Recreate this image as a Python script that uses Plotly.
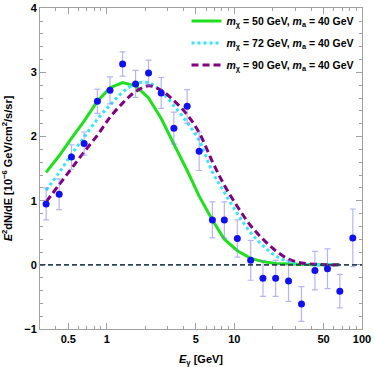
import numpy as np
import plotly.graph_objects as go

# ---- data ----
energy = [0.335, 0.424, 0.529, 0.665, 0.845, 1.061, 1.332, 1.683, 2.127, 2.673,
          3.36, 4.27, 5.30, 6.73, 8.35, 10.56, 13.43, 16.76, 21.07, 26.6,
          33.6, 42.8, 53.7, 67.1, 84.8]
flux = [0.95, 1.10, 1.68, 1.89, 2.55, 2.72, 3.13, 2.82, 2.99, 2.68,
        2.13, 2.47, 1.77, 0.70, 0.70, 0.41, 0.07, -0.21, -0.21, -0.25,
        -0.61, -0.09, -0.06, -0.41, 0.42]
flux_err = [0.25, 0.24, 0.19, 0.18, 0.19, 0.21, 0.19, 0.21, 0.20, 0.24,
            0.25, 0.26, 0.30, 0.28, 0.28, 0.29, 0.31, 0.28, 0.28, 0.32,
            0.27, 0.30, 0.31, 0.26, 0.45]

model_x = [0.335, 0.424, 0.529, 0.665, 0.845, 1.061, 1.332, 1.683, 2.127, 2.673,
           3.36, 4.27, 5.30, 6.73, 8.35, 10.56, 13.43, 16.76, 21.07, 26.6,
           33.6, 42.8, 53.7, 67.1]
model_50 = [1.44, 1.70, 1.97, 2.24, 2.55, 2.76, 2.84, 2.79, 2.60, 2.28,
            1.88, 1.47, 1.07, 0.70, 0.40, 0.22, 0.10, 0.05, 0.02, 0.01,
            0.005, 0.0, 0.0, 0.0]
model_72 = [1.16, 1.44, 1.72, 1.99, 2.27, 2.49, 2.69, 2.82, 2.84, 2.70,
            2.48, 2.22, 1.94, 1.45, 1.13, 0.80, 0.50, 0.30, 0.14, 0.05,
            0.015, 0.0, 0.0, 0.0]
model_90 = [0.98, 1.25, 1.50, 1.76, 2.02, 2.30, 2.52, 2.70, 2.79, 2.72,
            2.56, 2.34, 2.06, 1.61, 1.24, 0.91, 0.61, 0.40, 0.22, 0.09,
            0.03, 0.01, 0.0, 0.0]

legend_names = ["<b><i>m</i><sub>χ</sub> = 50 GeV, <i>m</i><sub>a</sub> = 40 GeV</b>",
                "<b><i>m</i><sub>χ</sub> = 72 GeV, <i>m</i><sub>a</sub> = 40 GeV</b>",
                "<b><i>m</i><sub>χ</sub> = 90 GeV, <i>m</i><sub>a</sub> = 40 GeV</b>"]

x_tickvals = [0.5, 1, 5, 10, 50, 100]
x_ticktext = ["0.5", "1", "5", "10", "50", "100"]
x_minor = [0.3, 0.4, 0.6, 0.7, 0.8, 0.9, 2, 3, 4, 6, 7, 8, 9, 20, 30, 40, 60, 70, 80, 90]
y_tickvals = [-1, 0, 1, 2, 3, 4]
y_ticktext = ["−1", "0", "1", "2", "3", "4"]

fig = go.Figure()

fig.add_trace(go.Scatter(
    x=model_x, y=model_50, mode="lines", name=legend_names[0], legendgroup="a",
    line=dict(color="#1fe01f", width=3)))
fig.add_trace(go.Scatter(
    x=model_x, y=model_72, mode="lines", name=legend_names[1], legendgroup="b",
    line=dict(color="#33e6ff", width=3, dash="dot"), line_shape="spline"))
fig.add_trace(go.Scatter(
    x=model_x, y=model_90, mode="lines", name=legend_names[2], legendgroup="c",
    line=dict(color="#800080", width=3, dash="7px,4px"), line_shape="spline"))

fig.add_trace(go.Scatter(
    x=energy, y=flux, mode="markers", showlegend=False,
    marker=dict(color="#1010f0", size=7),
    error_y=dict(type="data", array=flux_err, visible=True,
                 color="rgba(120,120,235,0.55)", thickness=1.2, width=3)))

fig.add_shape(type="line", xref="paper", x0=0, x1=1, yref="y", y0=0, y1=0,
              line=dict(color="#2f4358", width=1.6, dash="5px,3px"), layer="above")

axis_common = dict(showline=True, linecolor="#a0a0a0", linewidth=1, mirror="ticks",
                   ticks="inside", tickcolor="#a0a0a0", showgrid=False, zeroline=False,
                   automargin=False, ticklabeloverflow="allow",
                   tickfont=dict(family="Liberation Sans", size=11, color="black"))

fig.update_xaxes(type="log", range=[np.log10(0.3), 2.0005],
                 tickvals=x_tickvals, ticktext=["<b>%s</b>" % t for t in x_ticktext], ticklen=6,
                 minor=dict(tickvals=x_minor, ticks="inside", ticklen=3, tickcolor="#a0a0a0"),
                 title=dict(text="<b><i>E</i><sub>γ</sub> [GeV]</b>", standoff=11,
                            font=dict(family="Liberation Sans", size=11, color="black")),
                 **axis_common)
fig.update_yaxes(range=[-1, 4.003], ticklen=6,
                 tickvals=y_tickvals, ticktext=["<b>%s</b>" % t for t in y_ticktext],
                 minor=dict(dtick=0.2, ticks="inside", ticklen=3, tickcolor="#a0a0a0"),
                 title=dict(text="<b><i>E</i><sup>2</sup>dN/dE [10<sup>−6</sup> GeV/cm<sup>2</sup>/s/sr]</b>",
                            standoff=9,
                            font=dict(family="Liberation Sans", size=11, color="black")),
                 **axis_common)

fig.update_layout(
    width=374, height=367,
    margin=dict(l=40, r=12, t=6, b=38),
    paper_bgcolor="white", plot_bgcolor="white",
    font=dict(family="Liberation Sans", size=11, color="black"),
    legend=dict(x=0.455, y=1.005, xanchor="left", yanchor="top",
                bgcolor="rgba(0,0,0,0)", font=dict(size=10.5), tracegroupgap=3,
                itemwidth=30),
)

fig.write_html("out.html", config={"displayModeBar": False},
               post_script=("document.body.style.margin='0px';"
                            "document.body.style.overflow='hidden';"
                            "document.documentElement.style.overflow='hidden';"
                            "var gdiv=document.getElementById('{plot_id}');"
                            "gdiv.style.position='fixed';gdiv.style.left='0px';gdiv.style.top='0px';"))
